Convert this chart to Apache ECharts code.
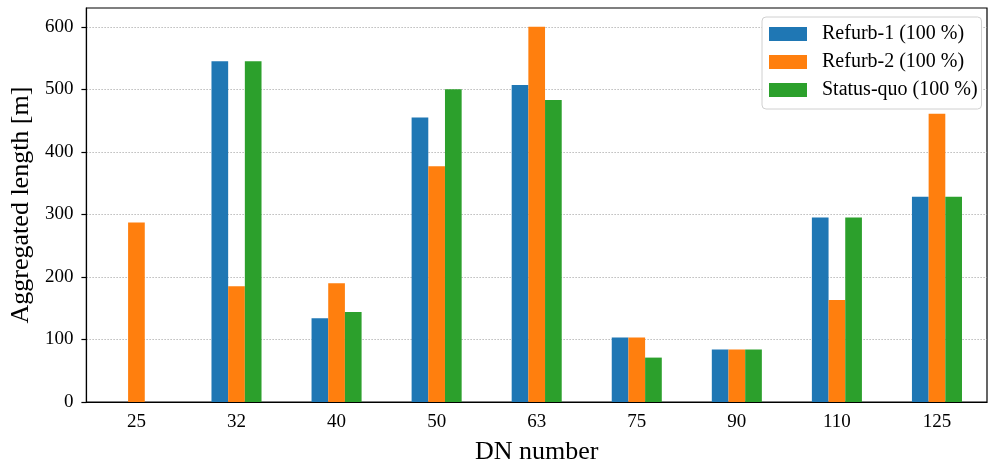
<!DOCTYPE html>
<html>
<head>
<meta charset="utf-8">
<script src="https://cdn.jsdelivr.net/npm/echarts@6/dist/echarts.min.js"></script>
<style>html,body{margin:0;padding:0;background:#fff;}#chart{width:988px;height:470px;}</style>
</head>
<body>
<div id="chart"></div>
<script>
const categories = ['25', '32', '40', '50', '63', '75', '90', '110', '125'];
const refurb1 = [0, 545, 134, 455, 507, 103, 84, 295, 328];
const refurb2 = [287, 185, 190, 377, 600, 103, 84, 163, 461];
const statusQuo = [0, 545, 144, 500, 483, 71, 84, 295, 328];
const yTicks = [0, 100, 200, 300, 400, 500, 600];
const seriesNames = ['Refurb-1 (100 %)', 'Refurb-2 (100 %)', 'Status-quo (100 %)'];
const colors = ['#1f77b4', '#ff7f0e', '#2ca02c'];

const FONT = 'Liberation Serif';
const chart = echarts.init(document.getElementById('chart'), null, {renderer: 'canvas'});
const mkSeries = (name, data, color) => ({
  name, type: 'bar', data, barWidth: '16.67%', barGap: '0%',
  itemStyle: {color}, emphasis: {disabled: true}
});
chart.setOption({
  animation: false,
  textStyle: {fontFamily: FONT},
  grid: {left: 84.5, right: 1, top: 8, bottom: 63, show: true, borderColor: '#000', borderWidth: 1.2, containLabel: false},
  legend: {
    data: seriesNames, orient: 'vertical', left: 762, top: 17,
    itemWidth: 38, itemHeight: 14, itemGap: 8,
    padding: [7, 4, 9, 7],
    borderColor: '#d0d0d0', borderWidth: 1, borderRadius: 4, backgroundColor: '#fff',
    textStyle: {fontFamily: FONT, fontSize: 20, color: '#000', padding: [0, 0, 0, 10]},
    icon: 'rect'
  },
  xAxis: {
    type: 'category', data: categories,
    name: 'DN number', nameLocation: 'middle', nameGap: 37,
    nameTextStyle: {fontFamily: FONT, fontSize: 26, color: '#000'},
    axisLine: {lineStyle: {color: '#000', width: 1.2}},
    axisTick: {alignWithLabel: true, length: 5, lineStyle: {color: '#000', width: 1.2}},
    axisLabel: {fontFamily: FONT, fontSize: 19, color: '#000', margin: 11}
  },
  yAxis: {
    type: 'value', min: 0, max: 630,
    name: 'Aggregated length [m]', nameLocation: 'middle', nameGap: 50,
    nameTextStyle: {fontFamily: FONT, fontSize: 26, color: '#000'},
    axisLine: {show: true, lineStyle: {color: '#000', width: 1.2}},
    axisTick: {show: true, length: 5, lineStyle: {color: '#000', width: 1.2}, customValues: yTicks},
    axisLabel: {fontFamily: FONT, fontSize: 19, color: '#000', margin: 13, customValues: yTicks},
    splitLine: {show: true, lineStyle: {color: '#aaaaaa', type: [1.5, 1.5], width: 0.8}}
  },
  series: [
    mkSeries(seriesNames[0], refurb1, colors[0]),
    mkSeries(seriesNames[1], refurb2, colors[1]),
    mkSeries(seriesNames[2], statusQuo, colors[2])
  ]
});
</script>
</body>
</html>
